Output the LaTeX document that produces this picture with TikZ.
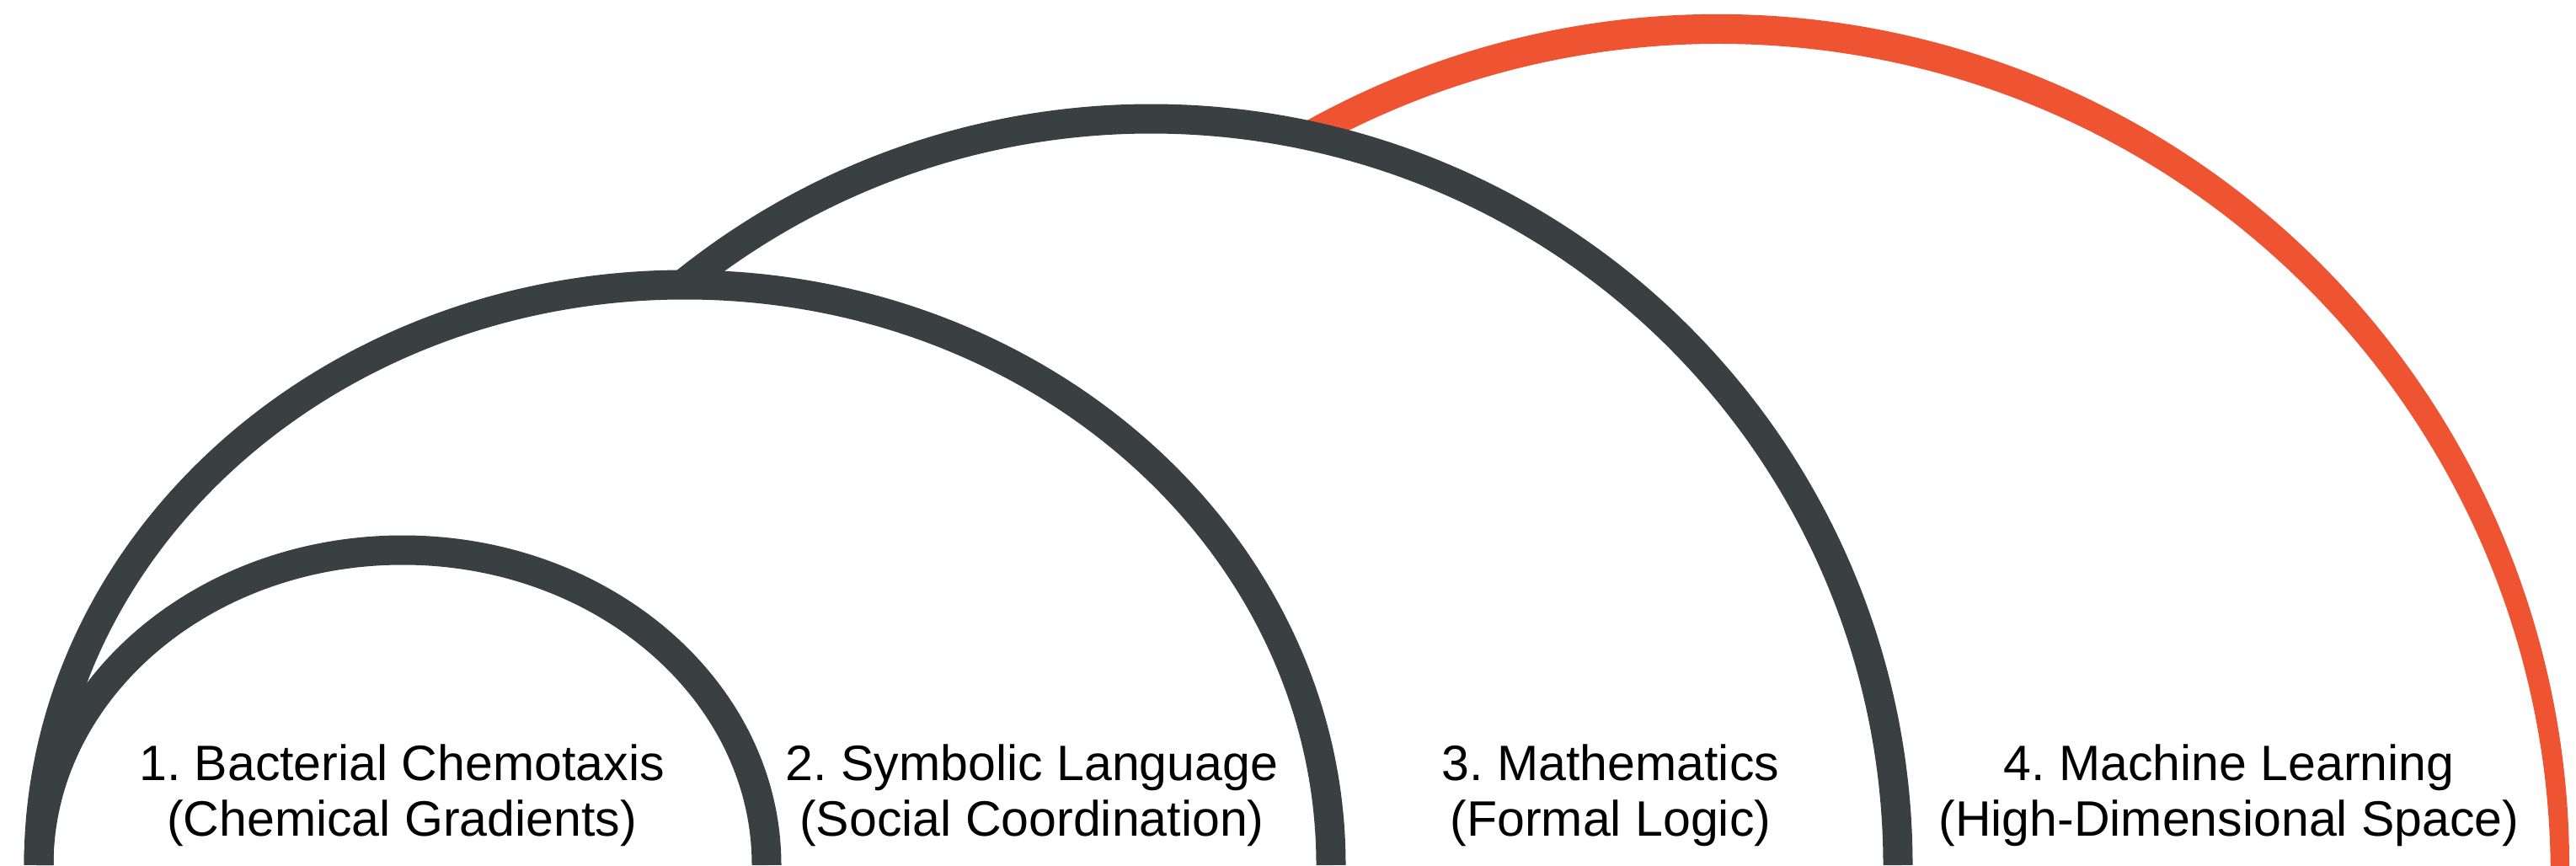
\documentclass[tikz,border=0pt]{standalone}
\usepackage{fontspec}
\setmainfont{Liberation Sans}
\definecolor{grafite}{RGB}{58,63,66}
\definecolor{laranja}{RGB}{238,83,50}

\begin{document}
\begin{tikzpicture}[
      font=\fontsize{16.8}{18.8}\selectfont\frenchspacing,
      arco/.style={draw=grafite, line width=3.5mm},
      destaque/.style={fill=laranja},
      rotulo/.style={align=center, inner sep=0pt, text=black}
    ]
    \useasboundingbox (0,0) rectangle (30.58,10.27);
    \clip (0,0) rectangle (30.58,10.27);

    % arco externo, mais fino na base
    \fill[destaque] ([shift={(20.40,0)}]120:10.1)
      arc[start angle=120, end angle=-2, radius=10.1]
      -- ([shift={(20.40,-0.128)}]-2:9.878)
      arc[start angle=-2, end angle=118, radius=9.878] -- cycle;

    \draw[arco] ([shift={(13.67,0)}]129.3:8.86)
      arc[start angle=129.3, end angle=0, radius=8.86];
    \draw[arco] (0.46,0) arc[start angle=180, end angle=0, x radius=7.67, y radius=6.89];
    \draw[arco] (0.46,0) arc[start angle=180, end angle=0, x radius=4.32, y radius=3.74];

    \node[rotulo] (bact) at (4.77,0.83) {1. Bacterial Chemotaxis\\(Chemical Gradients)};
    \node[rotulo] (simb) at (12.25,0.83) {2. Symbolic Language\\(Social Coordination)};
    \node[rotulo] (mat) at (19.12,0.83) {3. Mathematics\\(Formal Logic)};
    \node[rotulo] (ml) at (26.46,0.83) {4. Machine Learning\\(High-Dimensional Space)};
  \end{tikzpicture}
\end{document}
